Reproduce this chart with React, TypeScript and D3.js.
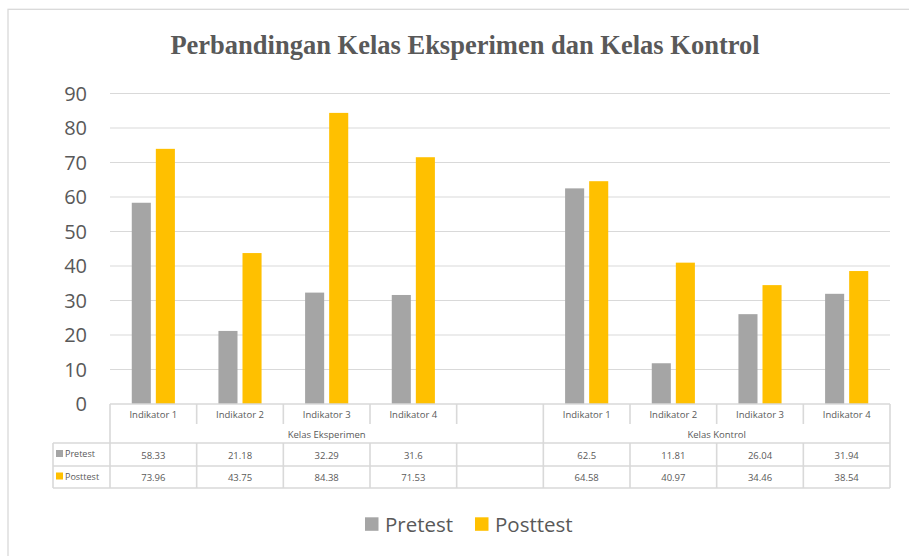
import React, { useEffect, useRef } from "react";
import * as d3 from "d3";

// chart data
const categories = [
    "Indikator 1",
    "Indikator 2",
    "Indikator 3",
    "Indikator 4",
    "",
    "Indikator 1",
    "Indikator 2",
    "Indikator 3",
    "Indikator 4",
];
const groups = [
    { name: "Kelas Eksperimen", from: 0, to: 4 },
    { name: "Kelas Kontrol", from: 5, to: 8 },
];
const pretest = [58.33, 21.18, 32.29, 31.6, null, 62.5, 11.81, 26.04, 31.94];
const posttest = [73.96, 43.75, 84.38, 71.53, null, 64.58, 40.97, 34.46, 38.54];
const yTicks = [0, 10, 20, 30, 40, 50, 60, 70, 80, 90];
const seriesNames = ["Pretest", "Posttest"];

function App() {
    const svgRef = useRef<SVGSVGElement>(null);

    let width = 909;
    let height = 556;
    let padding = { top: 93.5, left: 110, right: 19, bottom: 152 };

    let pretestColor = "#a5a5a5";
    let posttestColor = "#ffc000";
    let textColor = "#595959";
    let lineColor = "#d9d9d9";
    let font = "'Open Sans', sans-serif";

    useEffect(() => {
        let svg = d3.select(svgRef.current);
        svg.selectAll("*").remove();

        let xScale = d3
            .scaleBand()
            .domain(d3.range(categories.length).map(String))
            .range([padding.left, width - padding.right]);

        let yScale = d3
            .scaleLinear()
            .domain([0, 90])
            .range([height - padding.bottom, padding.top]);

        let slot = xScale.bandwidth();
        let barWidth = slot * 0.22;
        let barGap = 5;

        // outer border
        svg.append("rect")
            .attr("x", 8)
            .attr("y", 9.3)
            .attr("width", 1000)
            .attr("height", 1000)
            .style("fill", "none")
            .style("stroke", lineColor)
            .style("stroke-width", 1.3);

        // title
        svg.append("text")
            .attr("x", 465)
            .attr("y", 54.3)
            .attr("text-anchor", "middle")
            .style("font-family", "'Liberation Serif', serif")
            .style("font-weight", "bold")
            .style("font-size", "26.5px")
            .style("fill", textColor)
            .text("Perbandingan Kelas Eksperimen dan Kelas Kontrol");

        // gridlines + y labels
        svg.selectAll(".grid")
            .data(yTicks.filter((d) => d > 0))
            .enter()
            .append("line")
            .attr("x1", padding.left)
            .attr("x2", width - padding.right)
            .attr("y1", (d) => yScale(d))
            .attr("y2", (d) => yScale(d))
            .style("stroke", lineColor)
            .style("stroke-width", 1);

        svg.selectAll(".ylabel")
            .data(yTicks)
            .enter()
            .append("text")
            .attr("x", 87)
            .attr("y", (d) => yScale(d) + 7)
            .attr("text-anchor", "end")
            .style("font-family", font)
            .style("font-size", "20px")
            .style("fill", textColor)
            .text((d) => d);

        // bars
        let series = [pretest, posttest];
        let colors = [pretestColor, posttestColor];
        series.forEach((values, s) => {
            svg.selectAll(".bar-" + s)
                .data(values.map((v, i) => ({ v, i })).filter((d) => d.v !== null))
                .enter()
                .append("rect")
                .attr("x", (d) => {
                    let center = xScale(String(d.i))! + slot / 2;
                    return s === 0
                        ? center - barGap / 2 - barWidth
                        : center + barGap / 2;
                })
                .attr("y", (d) => yScale(d.v as number))
                .attr("width", barWidth)
                .attr("height", (d) => yScale(0) - yScale(d.v as number))
                .style("fill", colors[s]);
        });

        // data table
        let y0 = yScale(0);
        let catRowBottom = y0 + 20;
        let groupRowBottom = y0 + 39;
        let row1Bottom = y0 + 62;
        let row2Bottom = y0 + 84;
        let tableLeft = 53;
        let x0 = padding.left;
        let x1 = width - padding.right;
        let tableStroke = 1.6;

        let hLine = (y: number, a: number, b: number) =>
            svg.append("line")
                .attr("x1", a)
                .attr("x2", b)
                .attr("y1", y)
                .attr("y2", y)
                .style("stroke", lineColor)
                .style("stroke-width", tableStroke);
        let vLine = (x: number, a: number, b: number) =>
            svg.append("line")
                .attr("x1", x)
                .attr("x2", x)
                .attr("y1", a)
                .attr("y2", b)
                .style("stroke", lineColor)
                .style("stroke-width", tableStroke);

        hLine(y0, x0, x1);
        hLine(groupRowBottom, tableLeft, x1);
        hLine(row1Bottom, tableLeft, x1);
        hLine(row2Bottom, tableLeft, x1);

        vLine(tableLeft, groupRowBottom, row2Bottom);
        let boundaries = d3.range(categories.length + 1).map((i) =>
            i < categories.length ? xScale(String(i))! : x1
        );
        let groupEdges = [0, 5, categories.length];
        boundaries.forEach((bx, i) => {
            if (groupEdges.includes(i)) {
                vLine(bx, y0, row2Bottom);
            } else {
                vLine(bx, y0, catRowBottom);
                vLine(bx, groupRowBottom, row2Bottom);
            }
        });

        // category labels
        categories.forEach((c, i) => {
            svg.append("text")
                .attr("x", xScale(String(i))! + slot / 2)
                .attr("y", y0 + 13.5)
                .attr("text-anchor", "middle")
                .style("font-family", font)
                .style("font-size", "9.5px")
                .style("fill", textColor)
                .text(c);
        });

        groups.forEach((g) => {
            let a = xScale(String(g.from))!;
            let b = g.to + 1 < categories.length ? xScale(String(g.to + 1))! : x1;
            svg.append("text")
                .attr("x", (a + b) / 2)
                .attr("y", catRowBottom + 14)
                .attr("text-anchor", "middle")
                .style("font-family", font)
                .style("font-size", "9.5px")
                .style("fill", textColor)
                .text(g.name);
        });

        let rowBottoms = [row1Bottom, row2Bottom];
        let rowTops = [groupRowBottom, row1Bottom];
        series.forEach((values, s) => {
            let mid = (rowTops[s] + rowBottoms[s]) / 2;
            svg.append("rect")
                .attr("x", 56)
                .attr("y", mid - 4.5)
                .attr("width", 7)
                .attr("height", 7)
                .style("fill", colors[s]);
            svg.append("text")
                .attr("x", 65)
                .attr("y", mid + 2.5)
                .style("font-family", font)
                .style("font-size", "9px")
                .style("fill", textColor)
                .text(seriesNames[s]);
            values.forEach((v, i) => {
                if (v === null) return;
                svg.append("text")
                    .attr("x", xScale(String(i))! + slot / 2)
                    .attr("y", mid + 4)
                    .attr("text-anchor", "middle")
                    .style("font-family", font)
                    .style("font-size", "9.5px")
                    .style("fill", textColor)
                    .text(v);
            });
        });

        // legend
        let legendX = [365, 475];
        seriesNames.forEach((name, s) => {
            svg.append("rect")
                .attr("x", legendX[s])
                .attr("y", 517.3)
                .attr("width", 13.5)
                .attr("height", 13.5)
                .style("fill", colors[s]);
            svg.append("text")
                .attr("x", legendX[s] + 20)
                .attr("y", 531.5)
                .style("font-family", font)
                .style("font-size", "20.5px")
                .style("fill", textColor)
                .text(name);
        });
    }, []);

    return (
        <svg
            ref={svgRef}
            width={width}
            height={height}
            style={{ position: "absolute", left: 0, top: 0, background: "#fff" }}
        ></svg>
    );
}

export default App;
